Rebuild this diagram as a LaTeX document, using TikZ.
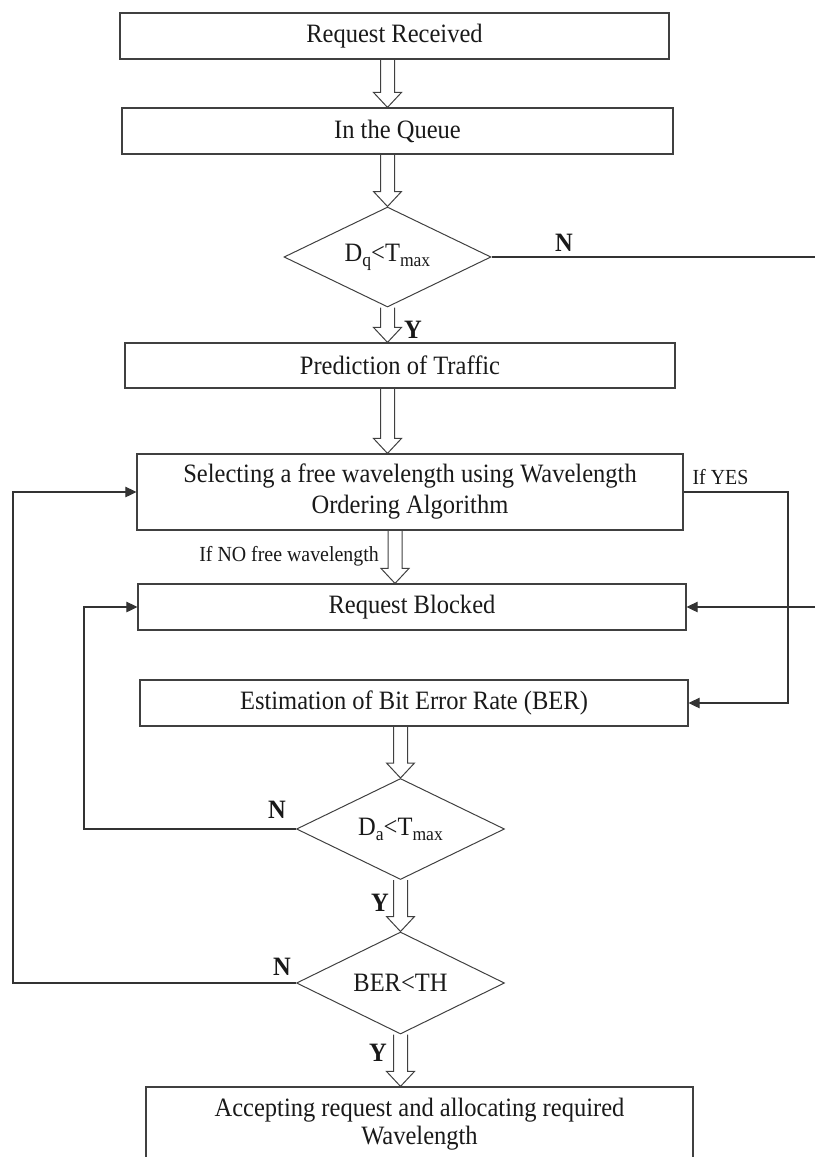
\documentclass[tikz,border=0pt]{standalone}
\usepackage{fontspec}
\setmainfont[FakeStretch=0.925]{Liberation Serif}
\usetikzlibrary{shapes.geometric,arrows.meta,calc}
\newcommand\mainfs{\fontsize{26.5}{31}\selectfont}
\newcommand\smallfs{\fontsize{21.5}{25}\selectfont}
\newcommand\mysub[1]{\raisebox{-5pt}{\fontsize{19}{19}\selectfont #1}}
\tikzset{
  box/.style={draw=black!75, line width=1.2pt, rectangle, inner sep=2pt, align=center, font=\mainfs, text=black!90},
  dec/.style={draw=black!75, line width=1pt, diamond, aspect=2, inner sep=0pt, font=\mainfs, text=black!90},
  lbl/.style={font=\bfseries\mainfs, inner sep=0pt, text=black!90},
  smalltxt/.style={font=\smallfs, inner sep=0pt, text=black!90},
  conn/.style={draw=black!80, line width=1.1pt},
  arr/.style={conn, -{Triangle[length=11pt,width=10.5pt]}},
  hollow/.style={draw=black!75, line width=1pt},
}
\newcommand\harrow[2]{\draw[hollow] let \p1=#1, \p2=#2 in
  (\x1-7pt,\y1) -- (\x1-7pt,\y2+15pt) -- (\x1-14pt,\y2+15pt) -- (\x1,\y2)
  -- (\x1+14pt,\y2+15pt) -- (\x1+7pt,\y2+15pt) -- (\x1+7pt,\y1);}
\begin{document}
\begin{tikzpicture}[x=1pt,y=-1pt]
\useasboundingbox (0,0) rectangle (815,1157);
% boxes
\node[box, minimum width=549pt, minimum height=46pt] (b1) at (394.5,36) {Request Received};
\node[box, minimum width=551pt, minimum height=46pt] (b2) at (397.5,131) {In the Queue};
\node[dec, minimum width=207pt, minimum height=100pt] (d1) at (387.5,257) {D\mysub{q}<T\mysub{max}};
\node[box, minimum width=550pt, minimum height=45pt] (pred) at (400,365.5) {Prediction of Traffic};
\node[box, minimum width=546pt, minimum height=76pt] (sel) at (410,492) {Selecting a free wavelength using Wavelength\\Ordering Algorithm};
\node[box, minimum width=548pt, minimum height=46pt] (blk) at (412,607) {Request Blocked};
\node[box, minimum width=548pt, minimum height=46pt] (est) at (414,703) {Estimation of Bit Error Rate (BER)};
\node[dec, minimum width=208pt, minimum height=101pt] (d2) at (400.5,829) {D\mysub{a}<T\mysub{max}};
\node[dec, minimum width=208pt, minimum height=102pt] (d3) at (400.5,983) {BER<TH};
\node[box, minimum width=547pt, minimum height=74pt, font=\fontsize{26.5}{28}\selectfont] (acc) at (419.5,1124) {Accepting request and allocating required\\Wavelength};
% hollow arrows
\coordinate (ax2) at (395,0);
\harrow{(b1.south -| d1.north)}{(b2.north -| d1.north)}
\harrow{(b2.south -| d1.north)}{(d1.north)}
\harrow{(d1.south)}{(pred.north -| d1.south)}
\harrow{(pred.south -| d1.south)}{(sel.north -| d1.south)}
\harrow{(sel.south -| ax2)}{(blk.north -| ax2)}
\harrow{(est.south -| d2.north)}{(d2.north)}
\harrow{(d2.south)}{(d3.north)}
\harrow{(d3.south)}{(acc.north -| d3.south)}
% connectors
\coordinate (nR) at (815,257);
\draw[conn] (d1.east) -- (nR);
\coordinate (bR) at (815,607);
\draw[arr] (bR) -- (blk.east);
\coordinate (yR) at (788,0);
\draw[arr] (sel.east) -- (sel.east -| yR) -- (est.east -| yR) -- (est.east);
\coordinate (lL) at (13,0);
\draw[arr] (d3.west) -- (d3.west -| lL) -- (sel.west -| lL) -- (sel.west);
\coordinate (lM) at (84,0);
\draw[arr] (d2.west) -- (d2.west -| lM) -- (blk.west -| lM) -- (blk.west);
% labels
\node[lbl] (n1) at (564,243) {N};
\node[lbl] (y1) at (413,330) {Y};
\node[smalltxt, anchor=base] (ifyes) at (720.5,484.5) {If YES};
\node[smalltxt, anchor=base east] (ifno) at (379,561.5) {If NO free wavelength};
\node[lbl] (n2) at (277,810) {N};
\node[lbl] (y2) at (380,903) {Y};
\node[lbl] (n3) at (282,967) {N};
\node[lbl] (y3) at (378,1053) {Y};
\end{tikzpicture}
\end{document}
